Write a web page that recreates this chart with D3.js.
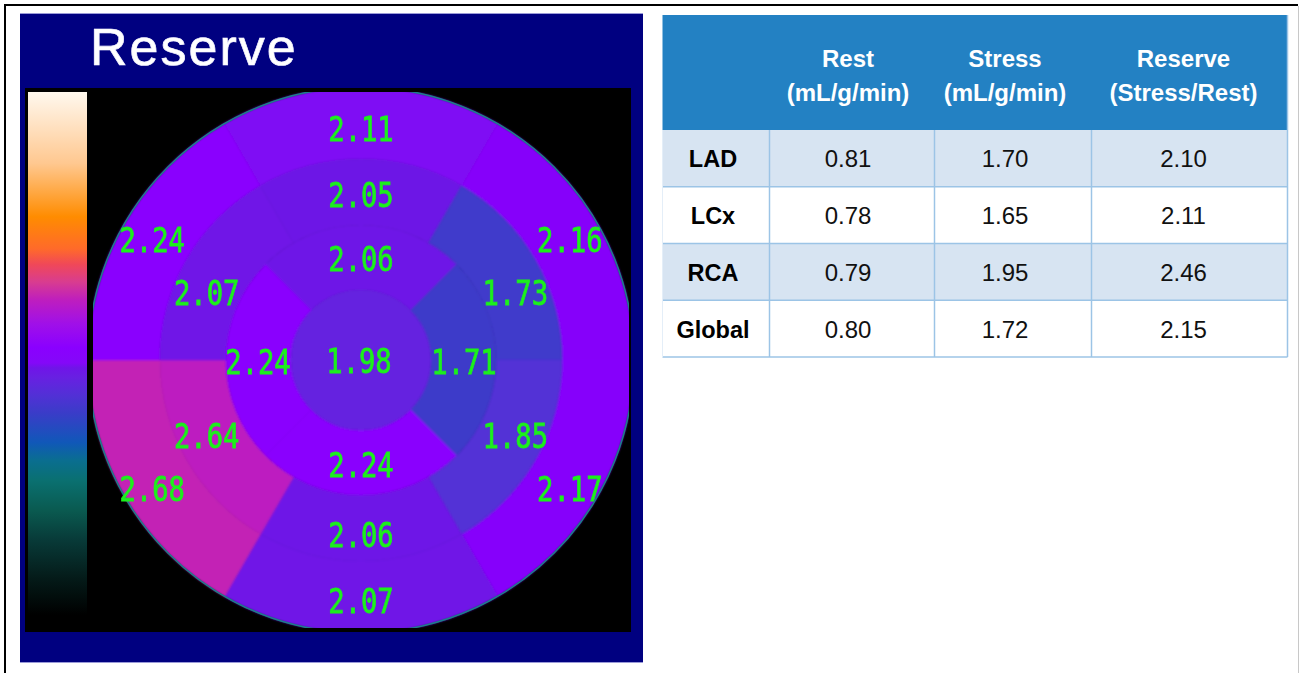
<!DOCTYPE html>
<html>
<head>
<meta charset="utf-8">
<script src="https://cdn.jsdelivr.net/npm/d3@7"></script>
<style>
  html, body { margin: 0; padding: 0; background: #ffffff; overflow: hidden; }
  svg { display: block; }
</style>
</head>
<body>
<script>
// ---- Polar map values (17-segment model, each ring clockwise from anterior) ----
const basalSegments  = ["Anterior", "Anterolateral", "Inferolateral", "Inferior", "Inferoseptal", "Anteroseptal"];
const basalValues    = [2.11, 2.16, 2.17, 2.07, 2.68, 2.24];
const midSegments    = ["Anterior", "Anterolateral", "Inferolateral", "Inferior", "Inferoseptal", "Anteroseptal"];
const midValues      = [2.05, 1.73, 1.85, 2.06, 2.64, 2.07];
const apicalSegments = ["Anterior", "Lateral", "Inferior", "Septal"];
const apicalValues   = [2.06, 1.71, 2.24, 2.24];
const apexValue      = 1.98;
const mapTitle       = "Reserve";

// ---- Colour map (value -> colour) ----
const cmapValues = [0, 0.3, 0.63, 0.88, 1.13, 1.3, 1.45, 1.7, 1.85, 2.0, 2.08, 2.12, 2.25, 2.45, 2.65, 2.8, 2.95, 3.08, 3.35, 3.8, 4.4];
const cmapColors = ["#000000", "#041a18", "#083a38", "#0a5a50", "#0a7070", "#0a6e90", "#1058b8", "#3a3cc8", "#5230d6", "#6820e2",
                    "#7014e8", "#8408f8", "#8a00ff", "#a010e8", "#be1ebe", "#d83c90", "#f04858", "#ff6a2a", "#ff8c00", "#ffc890", "#fff8ee"];

// ---- Flow table ----
const territories  = ["LAD", "LCx", "RCA", "Global"];
const restFlow     = [0.81, 0.78, 0.79, 0.80];
const stressFlow   = [1.70, 1.65, 1.95, 1.72];
const flowReserve  = [2.10, 2.11, 2.46, 2.15];
const columnTitles = ["Rest", "Stress", "Reserve"];
const columnUnits  = ["(mL/g/min)", "(mL/g/min)", "(Stress/Rest)"];

const W = 1301, H = 673;
const svg = d3.select("body").append("svg").attr("width", W).attr("height", H);
const defs = svg.append("defs");

// page frame
svg.append("line").attr("x1", 5).attr("x2", 1298).attr("y1", 5).attr("y2", 5)
  .attr("stroke", "#000").attr("stroke-width", 2);
svg.append("line").attr("x1", 5).attr("x2", 5).attr("y1", 4).attr("y2", H)
  .attr("stroke", "#000").attr("stroke-width", 2);
svg.append("line").attr("x1", 1298.5).attr("x2", 1298.5).attr("y1", 6).attr("y2", H)
  .attr("stroke", "#c8c8c8").attr("stroke-width", 1);

// ================= Polar map panel =================
const panel = svg.append("g");
panel.append("rect").attr("x", 20).attr("y", 14).attr("width", 623).attr("height", 648).attr("fill", "#000080");
panel.append("line").attr("x1", 20).attr("x2", 643).attr("y1", 13.5).attr("y2", 13.5).attr("stroke", "#9a9ad8").attr("stroke-width", 1);
panel.append("line").attr("x1", 20).attr("x2", 643).attr("y1", 662.5).attr("y2", 662.5).attr("stroke", "#9a9ad8").attr("stroke-width", 1);
panel.append("rect").attr("x", 25).attr("y", 88).attr("width", 606).attr("height", 544).attr("fill", "#000");

panel.append("text")
  .attr("x", 90).attr("y", 65)
  .attr("font-family", "'Liberation Sans', Arial, sans-serif")
  .attr("font-size", 52).attr("letter-spacing", 2)
  .attr("fill", "#ffffff").attr("stroke", "#f4f4ff").attr("stroke-width", 0.7)
  .text(mapTitle);

const color = d3.scaleLinear().domain(cmapValues).range(cmapColors).interpolate(d3.interpolateRgb).clamp(true);

// colour bar
const barY = d3.scaleLinear().domain([0, d3.max(cmapValues)]).range([615, 92]);
const grad = defs.append("linearGradient").attr("id", "cbar")
  .attr("gradientUnits", "userSpaceOnUse")
  .attr("x1", 0).attr("x2", 0).attr("y1", barY.range()[0]).attr("y2", barY.range()[1]);
grad.selectAll("stop").data(cmapValues).join("stop")
  .attr("offset", d => (barY(d) - barY.range()[0]) / (barY.range()[1] - barY.range()[0]))
  .attr("stop-color", d => color(d));
panel.append("rect").attr("x", 28).attr("y", barY.range()[1]).attr("width", 59)
  .attr("height", barY.range()[0] - barY.range()[1]).attr("fill", "url(#cbar)");

// bull's-eye geometry
const cx = 361, cy = 360, R = 273, clipHalf = 268;
const ringEdges = [0, 70, 135, 201, R];
defs.append("clipPath").attr("id", "mapClip")
  .append("rect").attr("x", cx - clipHalf).attr("y", cy - clipHalf + 0.5)
  .attr("width", clipHalf * 2).attr("height", clipHalf * 2 - 1);
defs.append("filter").attr("id", "soft").attr("x", -0.05).attr("y", -0.05).attr("width", 1.1).attr("height", 1.1)
  .append("feGaussianBlur").attr("stdDeviation", 1.1);

const deg = Math.PI / 180;
// label placement per ring: radius, vertical stretch of the direction, horizontal spread, vertical offset
function ringSegments(values, names, inner, outer, labelR, squash, spread, yShift) {
  const n = values.length, span = 360 / n;
  return values.map((v, i) => {
    const a = i * span * deg;
    const dx = Math.sin(a), dy = -Math.cos(a) * squash;
    const len = Math.hypot(dx, dy);
    return {
      name: names[i], value: v,
      innerRadius: inner, outerRadius: outer,
      startAngle: (i * span - span / 2) * deg, endAngle: (i * span + span / 2) * deg,
      lx: cx + spread * labelR * dx / len, ly: cy + yShift + labelR * dy / len
    };
  });
}
const segments = [
  ...ringSegments(basalValues, basalSegments, ringEdges[3], ringEdges[4], 236, 1.07, 1.04, 4),
  ...ringSegments(midValues, midSegments, ringEdges[2], ringEdges[3], 170, 0.8, 1.0, 4),
  ...ringSegments(apicalValues, apicalSegments, ringEdges[1], ringEdges[2], 103, 1, 1.0, 1),
  { name: "Apex", value: apexValue, innerRadius: 0, outerRadius: ringEdges[1], startAngle: 0, endAngle: 2 * Math.PI, lx: cx - 2, ly: cy }
];

const arc = d3.arc();
const mapG = panel.append("g").attr("clip-path", "url(#mapClip)");
const fillG = mapG.append("g").attr("filter", "url(#soft)");
fillG.selectAll("path.seg").data(segments).join("path")
  .attr("class", "seg")
  .attr("transform", `translate(${cx},${cy})`)
  .attr("d", d => arc(d))
  .attr("fill", d => color(d.value))
  .attr("stroke", d => color(d.value)).attr("stroke-width", 0.6);
mapG.append("circle").attr("cx", cx).attr("cy", cy).attr("r", R)
  .attr("fill", "none").attr("stroke", "#1d7d8c").attr("stroke-width", 1.6);

// segment value labels
const fmt = d3.format(".2f");
mapG.selectAll("text.val").data(segments).join("text")
  .attr("class", "val")
  .attr("transform", d => `translate(${d.lx},${d.ly + 12.5}) scale(0.8,1)`)
  .attr("text-anchor", "middle")
  .attr("font-family", "'DejaVu Sans Mono', monospace")
  .attr("font-size", 34)
  .attr("fill", "#1cf01c").attr("stroke", "#1cf01c").attr("stroke-width", 0.8)
  .text(d => fmt(d.value));

// ================= Flow table =================
const tableX = 662.5, tableY = 15, headerH = 115, rowH = 56.75;
const colWidths = [107, 165, 157, 196];
const textShift = [-3, -4, -8, -6];
const colEdges = colWidths.reduce((acc, w) => { acc.push(acc[acc.length - 1] + w); return acc; }, [tableX]);
const tableW = colEdges[colEdges.length - 1] - tableX;
const rowY = d3.scaleBand().domain(territories).range([tableY + headerH, tableY + headerH + rowH * territories.length]);
const tbl = svg.append("g");

tbl.append("rect").attr("x", tableX).attr("y", tableY).attr("width", tableW).attr("height", headerH).attr("fill", "#2381c3");
tbl.selectAll("rect.row").data(territories).join("rect")
  .attr("class", "row")
  .attr("x", tableX).attr("y", d => rowY(d)).attr("width", tableW).attr("height", rowY.bandwidth())
  .attr("fill", (d, i) => i % 2 === 0 ? "#d7e4f2" : "#ffffff");

// grid lines
const gridColor = "#9cc4e6";
territories.forEach(t => {
  tbl.append("line").attr("x1", tableX).attr("x2", tableX + tableW)
    .attr("y1", rowY(t) + rowY.bandwidth()).attr("y2", rowY(t) + rowY.bandwidth())
    .attr("stroke", gridColor).attr("stroke-width", 1.5);
});
colEdges.slice(1, -1).forEach(x => {
  tbl.append("line").attr("x1", x).attr("x2", x)
    .attr("y1", tableY + headerH).attr("y2", rowY.range()[1])
    .attr("stroke", gridColor).attr("stroke-width", 1.5);
});
tbl.append("line").attr("x1", tableX + tableW).attr("x2", tableX + tableW)
  .attr("y1", tableY).attr("y2", rowY.range()[1]).attr("stroke", gridColor).attr("stroke-width", 1.5);
tbl.append("line").attr("x1", tableX).attr("x2", tableX)
  .attr("y1", tableY + headerH).attr("y2", rowY.range()[1]).attr("stroke", "#e4eef8").attr("stroke-width", 1);

const colCenter = i => (colEdges[i] + colEdges[i + 1]) / 2 + textShift[i];
const font = "'Liberation Sans', Arial, Helvetica, sans-serif";

// header
columnTitles.forEach((title, i) => {
  const t = tbl.append("text").attr("text-anchor", "middle")
    .attr("font-family", font).attr("font-weight", "bold").attr("font-size", 24).attr("fill", "#ffffff");
  t.append("tspan").attr("x", colCenter(i + 1)).attr("y", 67).text(title);
  t.append("tspan").attr("x", colCenter(i + 1)).attr("y", 101).text(columnUnits[i]);
});

// body
const rows = territories.map((t, i) => ({ name: t, cells: [restFlow[i], stressFlow[i], flowReserve[i]] }));
rows.forEach(r => {
  const yMid = rowY(r.name) + rowY.bandwidth() / 2;
  tbl.append("text").attr("x", colCenter(0)).attr("y", yMid + 9)
    .attr("text-anchor", "middle").attr("font-family", font).attr("font-weight", "bold")
    .attr("font-size", 23.5).attr("fill", "#000").text(r.name);
  r.cells.forEach((v, j) => {
    tbl.append("text").attr("x", colCenter(j + 1)).attr("y", yMid + 9)
      .attr("text-anchor", "middle").attr("font-family", font)
      .attr("font-size", 24).attr("fill", "#111").text(fmt(v));
  });
});
</script>
</body>
</html>
